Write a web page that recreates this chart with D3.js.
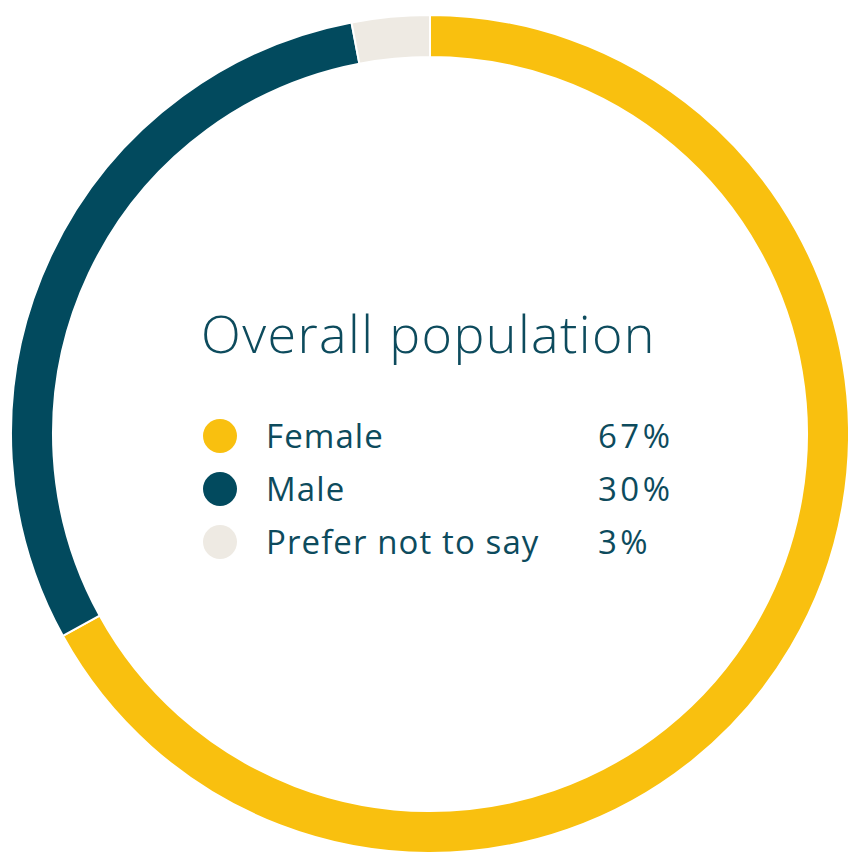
<!DOCTYPE html>
<html>
<head>
<meta charset="utf-8">
<script src="https://d3js.org/d3.v7.min.js"></script>
<style>
  body { margin: 0; background: #fff; }
  svg { display: block; }
</style>
</head>
<body>
<svg id="chart" width="848" height="853"></svg>
<script>
// data
var categories = ["Female", "Male", "Prefer not to say"]
var shares = [67, 30, 3]
var shareLabels = ["67%", "30%", "3%"]
var colours = ["#F9C00F", "#024A5E", "#EEEAE3"]
var title = "Overall population"

var textColour = "#0D4B5D"
var fontStack = "'Open Sans', Lato, sans-serif"
var svg = d3.select("#chart")

var cx = 430, cy = 434
var outerR = 419, innerR = 377

var pie = d3.pie().sort(null).value(function(d) { return d })
var arc = d3.arc().innerRadius(innerR).outerRadius(outerR)
var colour = d3.scaleOrdinal().domain(categories).range(colours)

var ring = svg.append("g").attr("transform", "translate(" + cx + "," + cy + ")")
ring.selectAll("path")
    .data(pie(shares))
    .enter().append("path")
    .attr("d", arc)
    .attr("fill", function(d, i) { return colour(categories[i]) })
    .attr("stroke", "#fff")
    .attr("stroke-width", 2)

// title
svg.append("text")
    .attr("x", 201)
    .attr("y", 353)
    .attr("fill", textColour)
    .style("font-family", fontStack)
    .style("font-weight", 300)
    .style("font-size", "52px")
    .style("letter-spacing", "1.4px")
    .text(title)

// legend
var rowY = d3.scalePoint().domain(categories).range([436, 542])
var legend = svg.append("g")
var rows = legend.selectAll("g.row")
    .data(categories)
    .enter().append("g")
    .attr("class", "row")
    .attr("transform", function(d) { return "translate(0," + rowY(d) + ")" })

rows.append("circle")
    .attr("cx", 220)
    .attr("cy", 0)
    .attr("r", 17)
    .attr("fill", function(d) { return colour(d) })

rows.append("text")
    .attr("x", 266)
    .attr("y", 12)
    .attr("fill", textColour)
    .style("font-family", fontStack)
    .style("font-size", "33px")
    .style("letter-spacing", "1.1px")
    .text(function(d) { return d })

rows.append("text")
    .attr("x", 598)
    .attr("y", 12)
    .attr("fill", textColour)
    .style("font-family", fontStack)
    .style("font-size", "33px")
    .style("letter-spacing", "3.5px")
    .text(function(d, i) { return shareLabels[i] })
</script>
</body>
</html>
